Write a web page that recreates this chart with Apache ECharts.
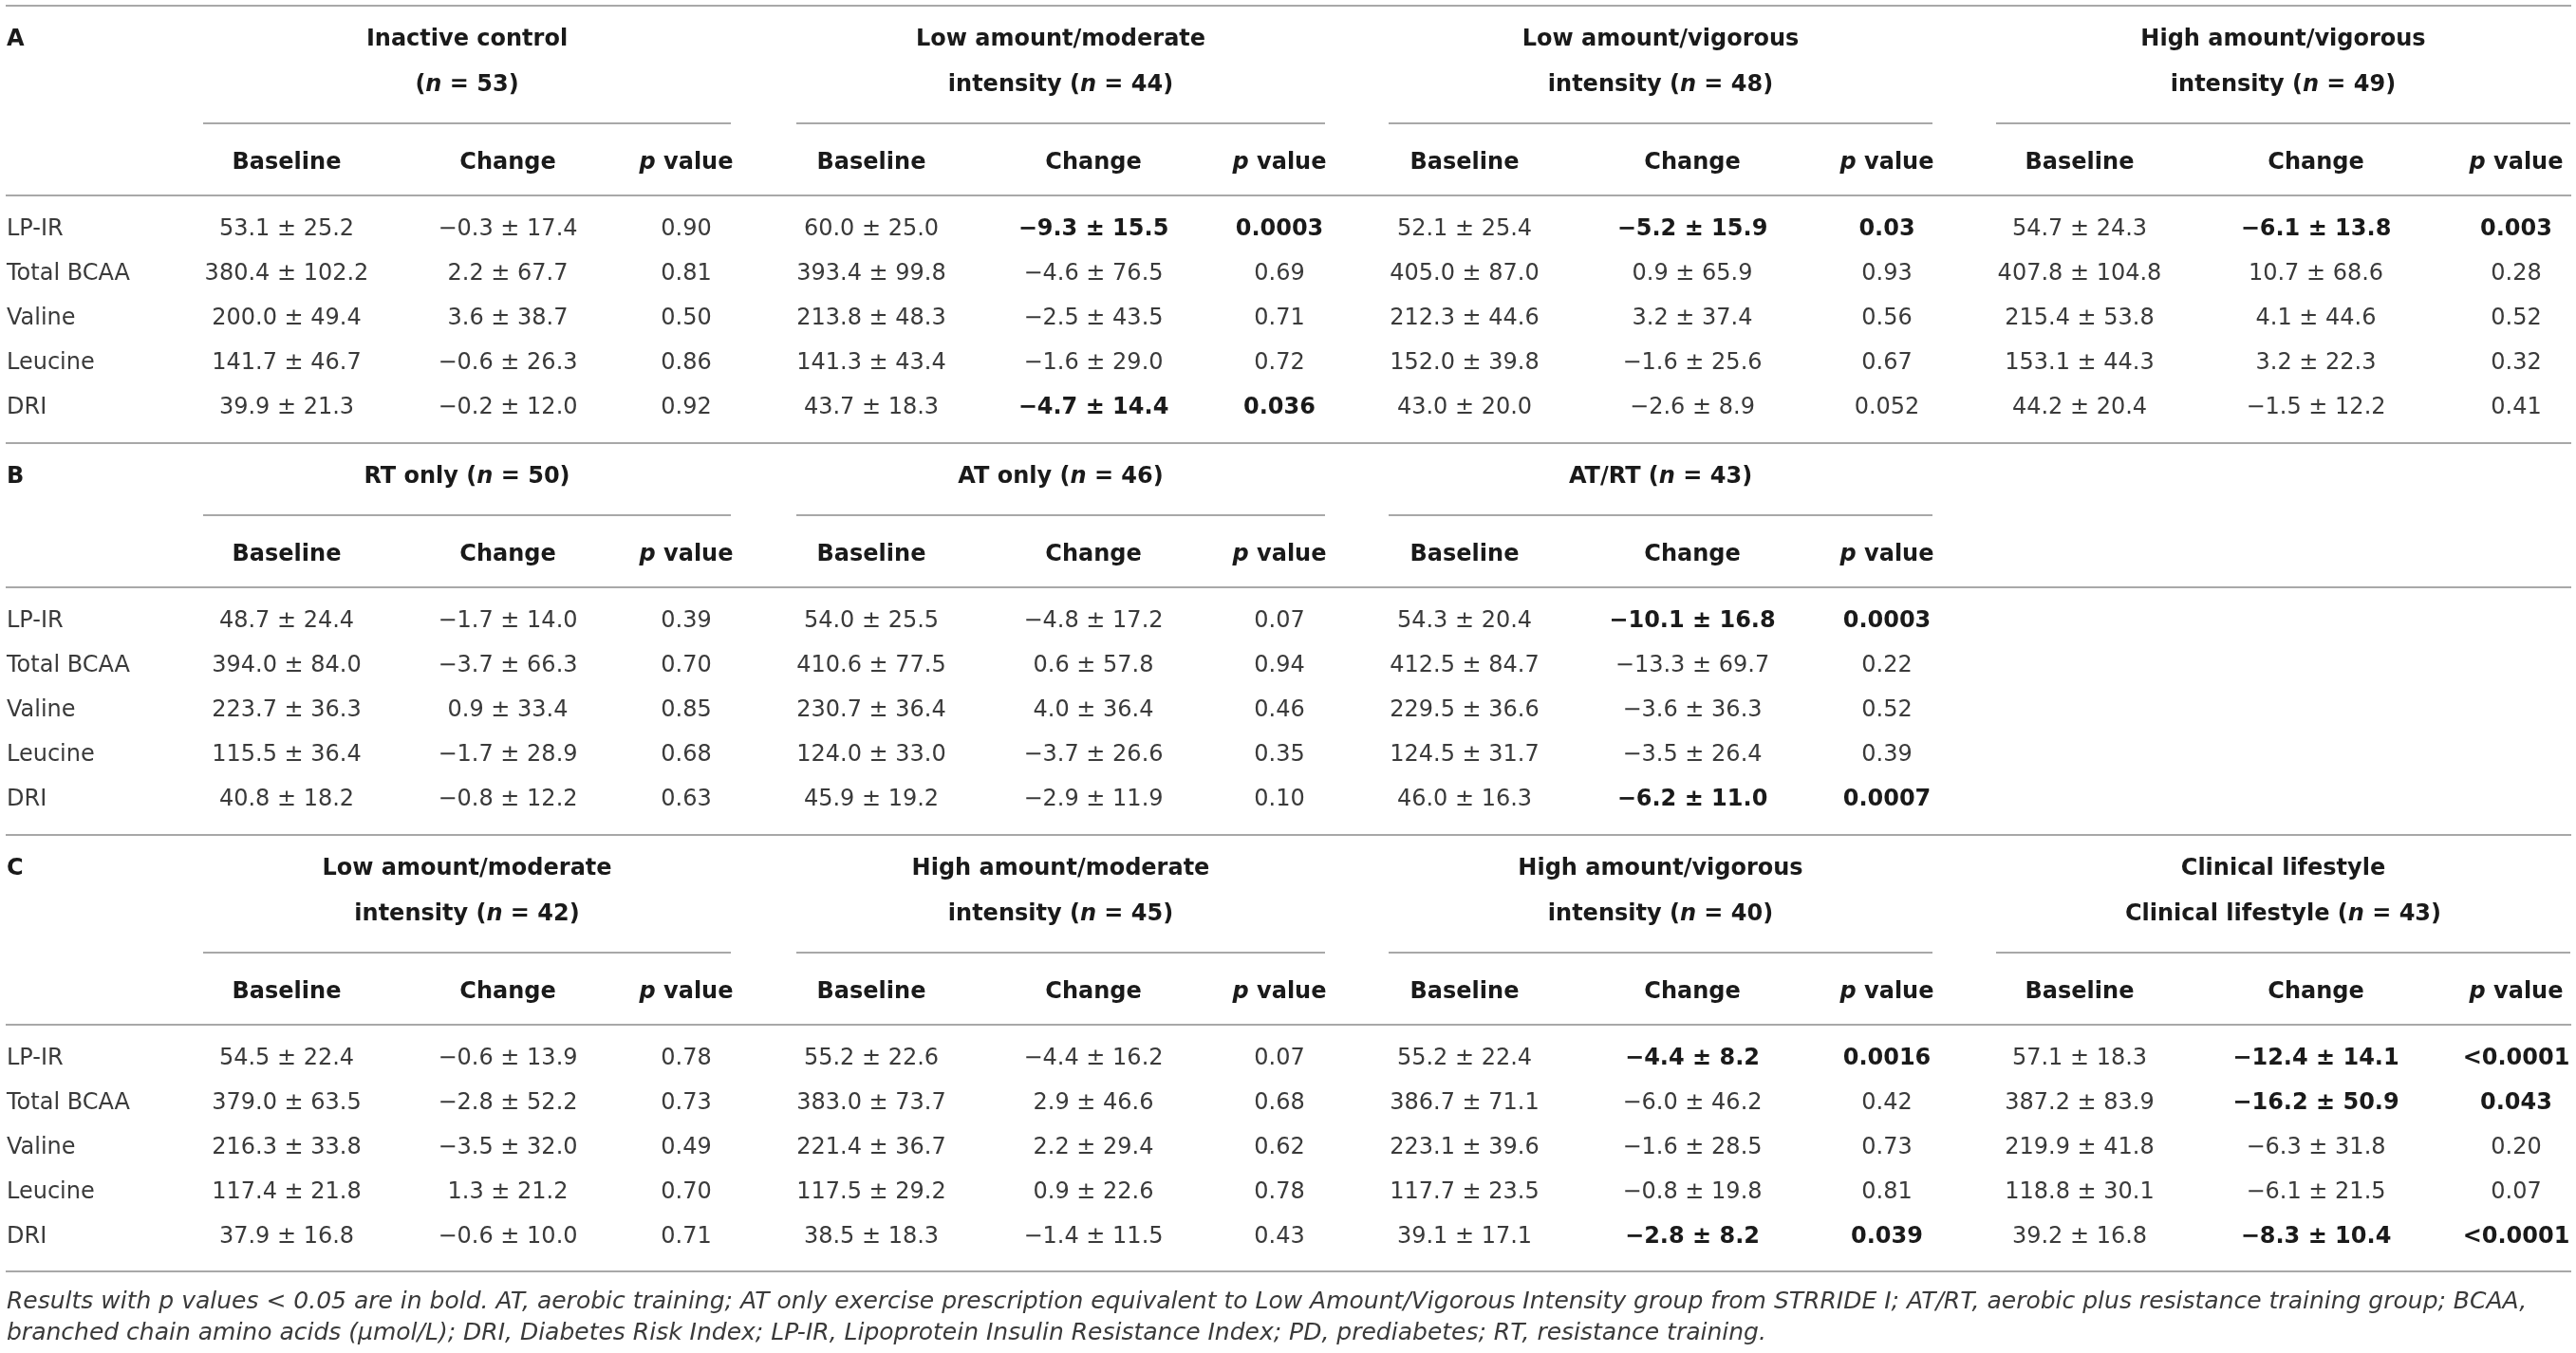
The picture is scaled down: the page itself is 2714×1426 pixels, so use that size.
<!DOCTYPE html>
<html>
<head>
<meta charset="utf-8">
<script src="https://cdn.jsdelivr.net/npm/echarts@6/dist/echarts.min.js"></script>
<style>
html, body { margin: 0; padding: 0; background: #fff; }
#main { width: 2714px; height: 1426px; }
</style>
</head>
<body>
<div id="main"></div>
<script type="text/javascript">
// ---- data ----
var rowNames = ['LP-IR', 'Total BCAA', 'Valine', 'Leucine', 'DRI'];
var colNames = ['Baseline', 'Change', 'p value'];

// section A
var titlesA = [
    ['Inactive control', '(n = 53)'],
    ['Low amount/moderate', 'intensity (n = 44)'],
    ['Low amount/vigorous', 'intensity (n = 48)'],
    ['High amount/vigorous', 'intensity (n = 49)']
];
var baselineA = [
    ['53.1 ± 25.2', '380.4 ± 102.2', '200.0 ± 49.4', '141.7 ± 46.7', '39.9 ± 21.3'],
    ['60.0 ± 25.0', '393.4 ± 99.8', '213.8 ± 48.3', '141.3 ± 43.4', '43.7 ± 18.3'],
    ['52.1 ± 25.4', '405.0 ± 87.0', '212.3 ± 44.6', '152.0 ± 39.8', '43.0 ± 20.0'],
    ['54.7 ± 24.3', '407.8 ± 104.8', '215.4 ± 53.8', '153.1 ± 44.3', '44.2 ± 20.4']
];
var changeA = [
    ['−0.3 ± 17.4', '2.2 ± 67.7', '3.6 ± 38.7', '−0.6 ± 26.3', '−0.2 ± 12.0'],
    ['−9.3 ± 15.5', '−4.6 ± 76.5', '−2.5 ± 43.5', '−1.6 ± 29.0', '−4.7 ± 14.4'],
    ['−5.2 ± 15.9', '0.9 ± 65.9', '3.2 ± 37.4', '−1.6 ± 25.6', '−2.6 ± 8.9'],
    ['−6.1 ± 13.8', '10.7 ± 68.6', '4.1 ± 44.6', '3.2 ± 22.3', '−1.5 ± 12.2']
];
var pA = [
    ['0.90', '0.81', '0.50', '0.86', '0.92'],
    ['0.0003', '0.69', '0.71', '0.72', '0.036'],
    ['0.03', '0.93', '0.56', '0.67', '0.052'],
    ['0.003', '0.28', '0.52', '0.32', '0.41']
];

// section B
var titlesB = [
    ['RT only (n = 50)'],
    ['AT only (n = 46)'],
    ['AT/RT (n = 43)']
];
var baselineB = [
    ['48.7 ± 24.4', '394.0 ± 84.0', '223.7 ± 36.3', '115.5 ± 36.4', '40.8 ± 18.2'],
    ['54.0 ± 25.5', '410.6 ± 77.5', '230.7 ± 36.4', '124.0 ± 33.0', '45.9 ± 19.2'],
    ['54.3 ± 20.4', '412.5 ± 84.7', '229.5 ± 36.6', '124.5 ± 31.7', '46.0 ± 16.3']
];
var changeB = [
    ['−1.7 ± 14.0', '−3.7 ± 66.3', '0.9 ± 33.4', '−1.7 ± 28.9', '−0.8 ± 12.2'],
    ['−4.8 ± 17.2', '0.6 ± 57.8', '4.0 ± 36.4', '−3.7 ± 26.6', '−2.9 ± 11.9'],
    ['−10.1 ± 16.8', '−13.3 ± 69.7', '−3.6 ± 36.3', '−3.5 ± 26.4', '−6.2 ± 11.0']
];
var pB = [
    ['0.39', '0.70', '0.85', '0.68', '0.63'],
    ['0.07', '0.94', '0.46', '0.35', '0.10'],
    ['0.0003', '0.22', '0.52', '0.39', '0.0007']
];

// section C
var titlesC = [
    ['Low amount/moderate', 'intensity (n = 42)'],
    ['High amount/moderate', 'intensity (n = 45)'],
    ['High amount/vigorous', 'intensity (n = 40)'],
    ['Clinical lifestyle', 'Clinical lifestyle (n = 43)']
];
var baselineC = [
    ['54.5 ± 22.4', '379.0 ± 63.5', '216.3 ± 33.8', '117.4 ± 21.8', '37.9 ± 16.8'],
    ['55.2 ± 22.6', '383.0 ± 73.7', '221.4 ± 36.7', '117.5 ± 29.2', '38.5 ± 18.3'],
    ['55.2 ± 22.4', '386.7 ± 71.1', '223.1 ± 39.6', '117.7 ± 23.5', '39.1 ± 17.1'],
    ['57.1 ± 18.3', '387.2 ± 83.9', '219.9 ± 41.8', '118.8 ± 30.1', '39.2 ± 16.8']
];
var changeC = [
    ['−0.6 ± 13.9', '−2.8 ± 52.2', '−3.5 ± 32.0', '1.3 ± 21.2', '−0.6 ± 10.0'],
    ['−4.4 ± 16.2', '2.9 ± 46.6', '2.2 ± 29.4', '0.9 ± 22.6', '−1.4 ± 11.5'],
    ['−4.4 ± 8.2', '−6.0 ± 46.2', '−1.6 ± 28.5', '−0.8 ± 19.8', '−2.8 ± 8.2'],
    ['−12.4 ± 14.1', '−16.2 ± 50.9', '−6.3 ± 31.8', '−6.1 ± 21.5', '−8.3 ± 10.4']
];
var pC = [
    ['0.78', '0.73', '0.49', '0.70', '0.71'],
    ['0.07', '0.68', '0.62', '0.78', '0.43'],
    ['0.0016', '0.42', '0.73', '0.81', '0.039'],
    ['<0.0001', '0.043', '0.20', '0.07', '<0.0001']
];

var footnotes = [
    'Results with p values < 0.05 are in bold. AT, aerobic training; AT only exercise prescription equivalent to Low Amount/Vigorous Intensity group from STRRIDE I; AT/RT, aerobic plus resistance training group; BCAA,',
    'branched chain amino acids (µmol/L); DRI, Diabetes Risk Index; LP-IR, Lipoprotein Insulin Resistance Index; PD, prediabetes; RT, resistance training.'
];

// ---- layout ----
var fontFam = '"DejaVu Sans", "Liberation Sans", sans-serif';
var lineColor = '#a8a8a8';
var textColor = '#3a3a3a';
var boldColor = '#1a1a1a';
var fs = 24;

var tableLeft = 6, tableRight = 2709;
var baseX = [302, 918, 1543, 2191];
var changeX = [535, 1152, 1783, 2440];
var pX = [723, 1348, 1988, 2651];
var groupSpan = [[214, 770], [839, 1396], [1463, 2036], [2103, 2708]];
var sectionTops = [6, 467, 880];
var tableBottom = 1340;

var sections = [
    { label: 'A', titles: titlesA, base: baselineA, chg: changeA, p: pA },
    { label: 'B', titles: titlesB, base: baselineB, chg: changeB, p: pB },
    { label: 'C', titles: titlesC, base: baselineC, chg: changeC, p: pC }
];

function isSig(p) {
    if (p.charAt(0) === '<') return true;
    return parseFloat(p) < 0.05;
}

function titleRich(s) {
    var parts = s.split('(n = ');
    if (parts.length < 2) return '{t|' + s + '}';
    return '{t|' + parts[0] + '(}{ti|n}{t| = ' + parts[1] + '}';
}

var richStyles = {
    t: { fontFamily: fontFam, fontSize: fs, fontWeight: 'bold', fill: boldColor },
    ti: { fontFamily: fontFam, fontSize: fs, fontWeight: 'bold', fontStyle: 'italic', fill: boldColor }
};

var els = [];

function hline(x1, x2, y) {
    els.push({
        type: 'line',
        shape: { x1: x1, y1: y, x2: x2, y2: y },
        style: { stroke: lineColor, lineWidth: 2.2 },
        silent: true
    });
}

function txt(x, y, s, opt) {
    opt = opt || {};
    els.push({
        type: 'text',
        x: x, y: y,
        silent: true,
        style: {
            text: s,
            fontFamily: fontFam,
            fontSize: opt.size || fs,
            fontWeight: opt.bold ? 'bold' : 'normal',
            fontStyle: opt.italic ? 'italic' : 'normal',
            fill: opt.bold ? boldColor : textColor,
            align: opt.align || 'center',
            verticalAlign: 'middle',
            rich: opt.rich
        }
    });
}

sections.forEach(function (sec, si) {
    var top = sectionTops[si];
    var nLines = sec.titles[0].length;
    var extra = (nLines - 1) * 48;

    hline(tableLeft, tableRight, top);
    txt(7, top + 36, sec.label, { bold: true, align: 'left' });

    sec.titles.forEach(function (lines, g) {
        var cx = (groupSpan[g][0] + groupSpan[g][1]) / 2;
        lines.forEach(function (ln, li) {
            txt(cx, top + 36 + li * 48, titleRich(ln), { rich: richStyles });
        });
        hline(groupSpan[g][0], groupSpan[g][1], top + 76 + extra);

        var hy = top + 118 + extra;
        txt(baseX[g], hy, colNames[0], { bold: true });
        txt(changeX[g], hy, colNames[1], { bold: true });
        txt(pX[g], hy, '{ti|p}{t| value}', { rich: richStyles });

        for (var r = 0; r < rowNames.length; r++) {
            var ry = top + 188 + extra + r * 47;
            var sig = isSig(sec.p[g][r]);
            txt(baseX[g], ry, sec.base[g][r]);
            txt(changeX[g], ry, sec.chg[g][r], { bold: sig });
            txt(pX[g], ry, sec.p[g][r], { bold: sig });
        }
    });

    hline(tableLeft, tableRight, top + 152 + extra);
    for (var r = 0; r < rowNames.length; r++) {
        txt(7, top + 188 + extra + r * 47, rowNames[r], { align: 'left' });
    }
});
hline(tableLeft, tableRight, tableBottom);

txt(7, 1372, footnotes[0], { italic: true, align: 'left', size: 25 });
txt(7, 1405, footnotes[1], { italic: true, align: 'left', size: 25 });

var myChart = echarts.init(document.getElementById('main'), null, { renderer: 'canvas' });
myChart.setOption({
    backgroundColor: '#ffffff',
    animation: false,
    graphic: { elements: els }
});
</script>
</body>
</html>
